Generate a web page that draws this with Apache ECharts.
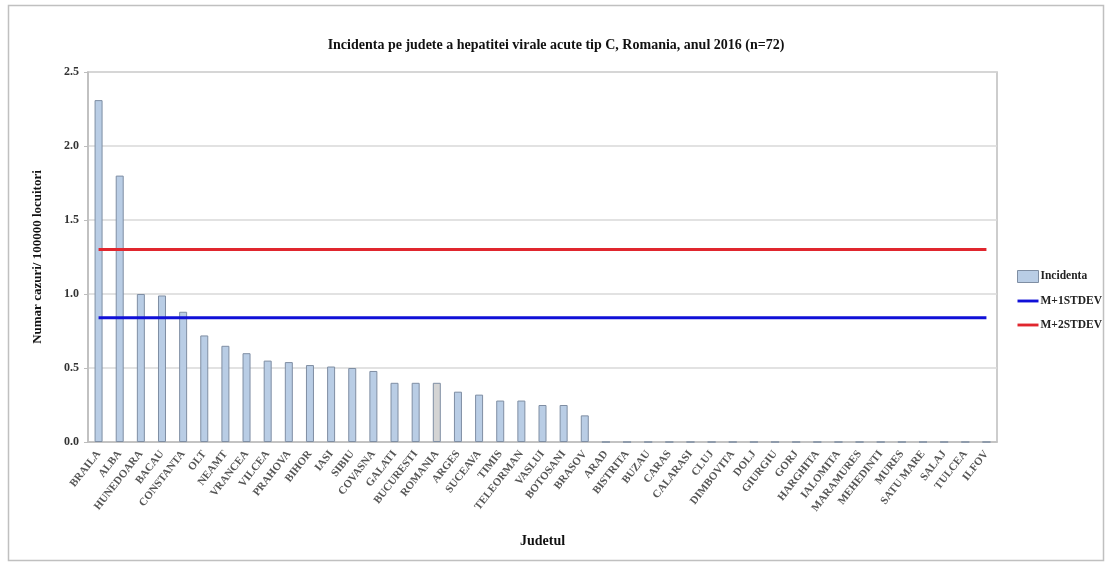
<!DOCTYPE html>
<html>
<head>
<meta charset="utf-8">
<script src="https://cdn.jsdelivr.net/npm/echarts@6/dist/echarts.min.js"></script>
<style>
  html, body { margin: 0; padding: 0; background: #fff; }
  #chart { width: 1112px; height: 564px; }
</style>
</head>
<body>
<div id="chart"></div>
<script>
// Counties, ordered by incidence (cases / 100000 inhabitants)
const judete = ['BRAILA', 'ALBA', 'HUNEDOARA', 'BACAU', 'CONSTANTA', 'OLT', 'NEAMT', 'VRANCEA', 'VILCEA',
  'PRAHOVA', 'BIHOR', 'IASI', 'SIBIU', 'COVASNA', 'GALATI', 'BUCURESTI', 'ROMANIA', 'ARGES', 'SUCEAVA',
  'TIMIS', 'TELEORMAN', 'VASLUI', 'BOTOSANI', 'BRASOV', 'ARAD', 'BISTRITA', 'BUZAU', 'CARAS', 'CALARASI',
  'CLUJ', 'DIMBOVITA', 'DOLJ', 'GIURGIU', 'GORJ', 'HARGHITA', 'IALOMITA', 'MARAMURES', 'MEHEDINTI',
  'MURES', 'SATU MARE', 'SALAJ', 'TULCEA', 'ILFOV'];

const incidenta = [2.31, 1.80, 1.00, 0.99, 0.88, 0.72, 0.65, 0.60, 0.55,
  0.54, 0.52, 0.51, 0.50, 0.48, 0.40, 0.40, 0.40, 0.34, 0.32,
  0.28, 0.28, 0.25, 0.25, 0.18, 0, 0, 0, 0, 0,
  0, 0, 0, 0, 0, 0, 0, 0, 0,
  0, 0, 0, 0, 0];

// Thresholds: mean + 1 and mean + 2 standard deviations
const mPlus1Stdev = 0.84;
const mPlus2Stdev = 1.30;

const yTicks = [0, 0.5, 1.0, 1.5, 2.0, 2.5];

const serif = '"Liberation Serif", "DejaVu Serif", serif';
const barColor = '#b9cde5';
const barBorder = '#7f8ea3';
const nationalColor = '#d4d4d4';
const blue = '#1010d8';
const red = '#e0262e';
const lineIcon = 'path://M0,0 L22,0 L22,3 L0,3 Z';

const chart = echarts.init(document.getElementById('chart'), null, { renderer: 'canvas' });

chart.setOption({
  animation: false,
  backgroundColor: '#fff',
  graphic: [{
    type: 'rect',
    shape: { x: 8.5, y: 5.5, width: 1095, height: 555 },
    style: { fill: 'none', stroke: '#c0c0c0', lineWidth: 1.5 },
    silent: true
  }],
  title: {
    text: 'Incidenta pe judete a hepatitei virale acute tip C, Romania, anul 2016 (n=72)',
    left: 551,
    textAlign: 'center',
    top: 33,
    textStyle: { fontFamily: serif, fontWeight: 'bold', fontSize: 14, color: '#111' }
  },
  legend: {
    orient: 'vertical',
    left: 1012,
    top: 265,
    itemGap: 12,
    itemWidth: 21,
    itemHeight: 12,
    textStyle: { fontFamily: serif, fontWeight: 'bold', fontSize: 11.5, color: '#222', padding: [0, 0, 0, -3] },
    data: [
      { name: 'Incidenta', icon: 'rect', itemStyle: { color: barColor, borderColor: barBorder, borderWidth: 1 } },
      { name: 'M+1STDEV', icon: lineIcon, itemStyle: { color: blue, borderWidth: 0 } },
      { name: 'M+2STDEV', icon: lineIcon, itemStyle: { color: red, borderWidth: 0 } }
    ]
  },
  grid: {
    left: 88, top: 72, right: 115, bottom: 122,
    show: true, borderColor: '#bdbdbd', borderWidth: 1.5
  },
  xAxis: {
    type: 'category',
    data: judete,
    name: 'Judetul',
    nameLocation: 'middle',
    nameGap: 92,
    nameTextStyle: { fontFamily: serif, fontWeight: 'bold', fontSize: 14, color: '#111' },
    axisLine: { lineStyle: { color: '#bdbdbd', width: 1.5 } },
    axisTick: { show: false },
    axisLabel: {
      interval: 0,
      rotate: 52,
      margin: 10,
      fontFamily: serif,
      fontWeight: 'bold',
      fontSize: 11,
      color: '#555'
    }
  },
  yAxis: {
    type: 'value',
    min: 0,
    max: 2.5,
    interval: 0.5,
    name: 'Numar cazuri/ 100000 locuitori',
    nameLocation: 'middle',
    nameGap: 44,
    nameTextStyle: { fontFamily: serif, fontWeight: 'bold', fontSize: 13, color: '#111' },
    axisLine: { show: true, lineStyle: { color: '#bdbdbd', width: 1.5 } },
    axisTick: { show: true, length: 4, lineStyle: { color: '#bdbdbd' } },
    splitLine: { lineStyle: { color: '#d8d8d8', width: 1.5 } },
    axisLabel: {
      margin: 9,
      fontFamily: serif,
      fontWeight: 'bold',
      fontSize: 12,
      color: '#333',
      formatter: v => yTicks.includes(v) ? v.toFixed(1) : ''
    }
  },
  series: [
    {
      name: 'Incidenta',
      type: 'bar',
      barWidth: 8,
      data: incidenta.map((v, i) => judete[i] === 'ROMANIA'
        ? { value: v, itemStyle: { color: nationalColor } }
        : v),
      itemStyle: { color: barColor, borderColor: barBorder, borderWidth: 1 }
    },
    {
      name: 'M+1STDEV',
      type: 'line',
      data: judete.map(() => mPlus1Stdev),
      symbol: 'none',
      lineStyle: { color: blue, width: 3 },
      itemStyle: { color: blue }
    },
    {
      name: 'M+2STDEV',
      type: 'line',
      data: judete.map(() => mPlus2Stdev),
      symbol: 'none',
      lineStyle: { color: red, width: 3 },
      itemStyle: { color: red }
    }
  ]
});
</script>
</body>
</html>
